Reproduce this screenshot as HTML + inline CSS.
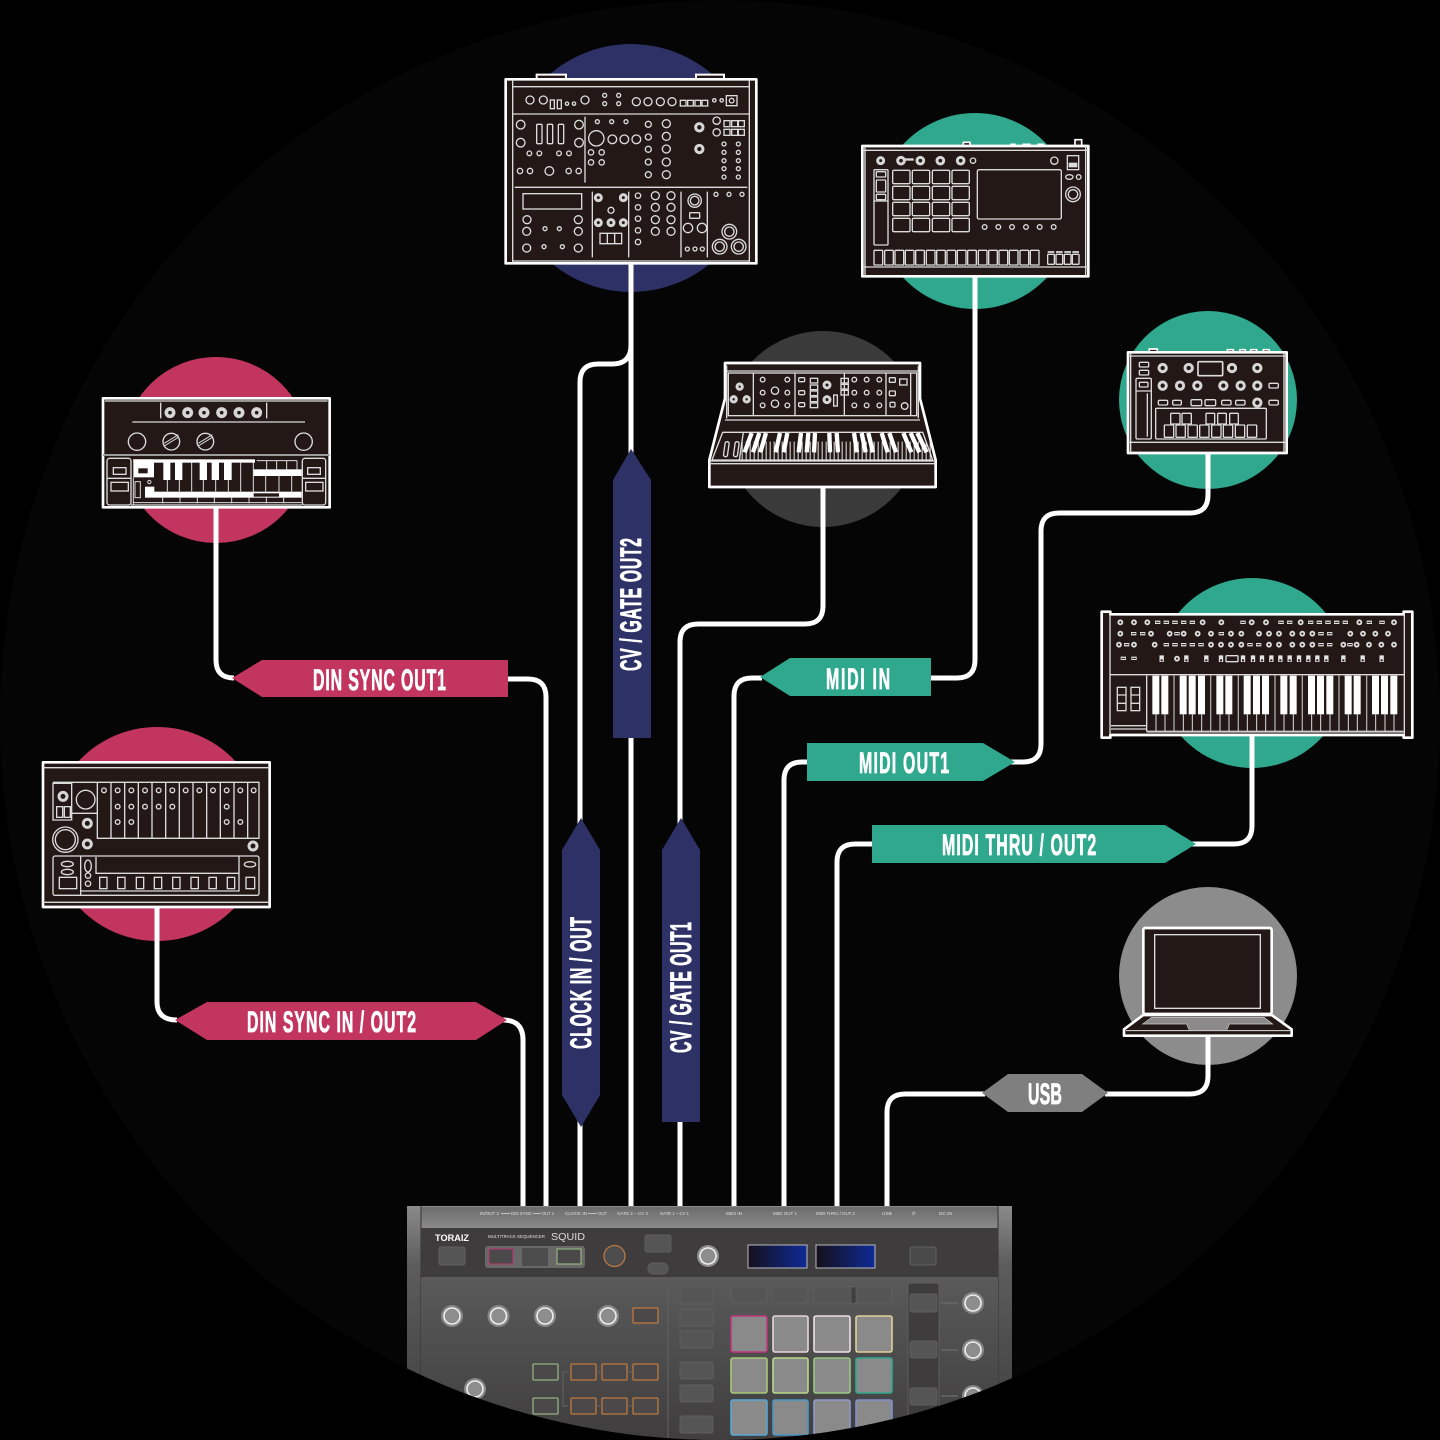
<!DOCTYPE html>
<html><head><meta charset="utf-8"><style>
html,body{margin:0;padding:0;background:#000}
svg{display:block}
.d{fill:none;stroke:#dcdcdc;stroke-width:4}
.o{fill:#231815;stroke:#fff;stroke-width:8;stroke-linejoin:round}
.k{fill:none;stroke:#d6d6d6;stroke-width:9}
.t{font-family:"Liberation Sans",sans-serif;font-weight:700;font-size:30px;fill:#fff;stroke:#fff;stroke-width:.8}
.c{fill:none;stroke:#fff;stroke-width:5}
.l{font-family:"Liberation Sans",sans-serif;font-size:4.5px;fill:#e0e0e0}
.b{fill:#555;stroke:#5e5e5e;stroke-width:1}
.r{fill:#4a4848;stroke-width:1.3}
</style></head><body>
<svg width="1440" height="1440" viewBox="0 0 1440 1440" xmlns="http://www.w3.org/2000/svg">
<defs>
<clipPath id="cc"><circle cx="720" cy="720" r="720"/></clipPath>
<linearGradient id="g1" x1="0" y1="0" x2="0" y2="1"><stop offset="0" stop-color="#8a8a8a"/><stop offset=".25" stop-color="#5c5c5c"/><stop offset="1" stop-color="#3e3c3c"/></linearGradient>
<linearGradient id="g2" x1="0" y1="0" x2="0" y2="1"><stop offset="0" stop-color="#6c6c6c"/><stop offset="1" stop-color="#8a8a8a"/></linearGradient>
<linearGradient id="g3" x1="0" y1="0" x2="0" y2="1"><stop offset="0" stop-color="#5a5a5a"/><stop offset="1" stop-color="#3e3c3c"/></linearGradient>
<linearGradient id="sc" x1="0" y1="0" x2="1" y2="0"><stop offset="0" stop-color="#15101a"/><stop offset="1" stop-color="#0e2a96"/></linearGradient>
</defs>
<rect width="1440" height="1440" fill="#000"/>
<circle cx="720" cy="720" r="720" fill="#050505"/>

<!-- colour circles -->
<circle cx="631" cy="168" r="124" fill="#2e3166"/>
<circle cx="975" cy="211" r="98" fill="#2fa88e"/>
<circle cx="823" cy="429" r="98" fill="#3a3a3a"/>
<circle cx="1208" cy="400" r="89" fill="#2fa88e"/>
<circle cx="1252" cy="673" r="95" fill="#2fa88e"/>
<circle cx="216" cy="450" r="93" fill="#c2355f"/>
<circle cx="157" cy="834" r="107" fill="#c2355f"/>
<circle cx="1208" cy="976" r="89" fill="#8c8c8c"/>

<!-- connectors -->
<path class="c" d="M216 505V660Q216 678 234 678"/>
<path class="c" d="M505 679H528Q546 679 546 697V1206"/>
<path class="c" d="M157 905V1002Q157 1020 177 1020"/>
<path class="c" d="M503 1020Q523 1020 523 1040V1206"/>
<path class="c" d="M631 262V1206"/>
<path class="c" d="M631 345Q631 364 612 364H598Q580 364 580 382V1206"/>
<path class="c" d="M823 486V606Q823 624 805 624H698Q680 624 680 642V1206"/>
<path class="c" d="M975 274V660Q975 678 957 678H928"/>
<path class="c" d="M762 678H752Q734 678 734 696V1206"/>
<path class="c" d="M1208 450V495Q1208 513 1190 513H1059Q1041 513 1041 531V744Q1041 762 1023 762H1010"/>
<path class="c" d="M810 762H802Q784 762 784 780V1206"/>
<path class="c" d="M1252 736V826Q1252 844 1234 844H1192"/>
<path class="c" d="M875 844H855Q837 844 837 862V1206"/>
<path class="c" d="M1208 1034V1076Q1208 1094 1190 1094H1105"/>
<path class="c" d="M985 1094H905Q887 1094 887 1112V1206"/>

<!-- tags -->
<polygon points="232,678 262,660 508,660 508,697 262,697" fill="#c2355f"/>
<text class="t" transform="translate(313,690) scale(.53,1)" textLength="251" lengthAdjust="spacing">DIN SYNC OUT1</text>
<polygon points="175,1020 207,1002 476,1002 507,1020 476,1040 207,1040" fill="#c2355f"/>
<text class="t" transform="translate(247,1032) scale(.53,1)" textLength="319" lengthAdjust="spacing">DIN SYNC IN / OUT2</text>
<polygon points="760,677 790,658 931,658 931,696 790,696" fill="#2fa88e"/>
<text class="t" transform="translate(826,689) scale(.53,1)" textLength="121" lengthAdjust="spacing">MIDI IN</text>
<polygon points="807,743 983,743 1015,762 983,781 807,781" fill="#2fa88e"/>
<text class="t" transform="translate(859,773) scale(.53,1)" textLength="170" lengthAdjust="spacing">MIDI OUT1</text>
<polygon points="872,825 1165,825 1196,844 1165,863 872,863" fill="#2fa88e"/>
<text class="t" transform="translate(942,855) scale(.53,1)" textLength="291" lengthAdjust="spacing">MIDI THRU / OUT2</text>
<polygon points="982,1093 1008,1074 1082,1074 1108,1093 1082,1112 1008,1112" fill="#7f7f7f"/>
<text class="t" transform="translate(1028,1104) scale(.53,1)" textLength="64" lengthAdjust="spacing">USB</text>
<polygon points="631,449 651,480 651,738 613,738 613,480" fill="#2e3166"/>
<text class="t" transform="translate(641,671) rotate(-90) scale(.53,1)" textLength="251" lengthAdjust="spacing">CV / GATE OUT2</text>
<polygon points="581,818 600,850 600,1095 581,1127 562,1095 562,850" fill="#2e3166"/>
<text class="t" transform="translate(591,1049) rotate(-90) scale(.53,1)" textLength="249" lengthAdjust="spacing">CLOCK IN / OUT</text>
<polygon points="681,818 700,850 700,1122 662,1122 662,850" fill="#2e3166"/>
<text class="t" transform="translate(691,1053) rotate(-90) scale(.53,1)" textLength="247" lengthAdjust="spacing">CV / GATE OUT1</text>

<!-- Device 1: modular -->
<g transform="translate(500,70) scale(.33333)">
<path d="M110 26V14H198V26M588 26V14H672V26" fill="#231815" stroke="#fff" stroke-width="6"/>
<rect class="o" x="17" y="28" width="752" height="552" />
<g class="d">
<path d="M38 28V580M748 28V580M38 50H748M38 132H748M44 352H742M38 573H748M255 140V338M277 365V562M386 365V562M543 365V562M622 365V562"/>
<circle cx="90" cy="90" r="12"/><circle cx="130" cy="90" r="12"/><circle cx="201" cy="101" r="5"/><circle cx="222" cy="101" r="5"/><circle cx="255" cy="90" r="12"/><circle cx="314" cy="76" r="6"/><circle cx="314" cy="101" r="6"/><circle cx="356" cy="76" r="6"/><circle cx="356" cy="101" r="6"/><circle cx="409" cy="95" r="12"/><circle cx="444" cy="95" r="12"/><circle cx="481" cy="95" r="12"/><circle cx="516" cy="95" r="12"/><circle cx="643" cy="91" r="5"/><circle cx="665" cy="91" r="5"/>
<rect x="151" y="90" width="12" height="26"/><rect x="172" y="90" width="12" height="26"/><rect x="541" y="91" width="17" height="17"/><rect x="563" y="91" width="17" height="17"/><rect x="585" y="91" width="17" height="17"/><rect x="606" y="91" width="17" height="17"/><rect x="679" y="77" width="32" height="30"/><circle cx="695" cy="92" r="7"/>
<circle cx="62" cy="164" r="13"/><circle cx="237" cy="164" r="13"/><circle cx="62" cy="218" r="13"/><circle cx="237" cy="218" r="13"/>
<rect x="110" y="163" width="16" height="58" rx="3"/><rect x="142" y="163" width="16" height="58" rx="3"/><rect x="175" y="163" width="16" height="58" rx="3"/>
<circle cx="88" cy="250" r="7"/><circle cx="118" cy="250" r="7"/><circle cx="177" cy="250" r="7"/><circle cx="207" cy="250" r="7"/><circle cx="60" cy="303" r="8"/><circle cx="90" cy="303" r="8"/><circle cx="148" cy="303" r="13"/><circle cx="206" cy="303" r="8"/><circle cx="236" cy="303" r="8"/>
<circle cx="292" cy="155" r="6"/><circle cx="335" cy="155" r="6"/><circle cx="378" cy="155" r="6"/><circle cx="289" cy="205" r="23"/><circle cx="337" cy="208" r="13"/><circle cx="373" cy="208" r="13"/><circle cx="409" cy="208" r="13"/><circle cx="273" cy="247" r="8"/><circle cx="305" cy="247" r="8"/><circle cx="273" cy="277" r="8"/><circle cx="305" cy="277" r="8"/>
<circle cx="445" cy="163" r="9"/><circle cx="445" cy="201" r="9"/><circle cx="445" cy="238" r="9"/><circle cx="445" cy="276" r="9"/><circle cx="445" cy="314" r="9"/>
<circle cx="499" cy="161" r="12"/><circle cx="499" cy="199" r="12"/><circle cx="499" cy="237" r="12"/><circle cx="499" cy="276" r="12"/><circle cx="499" cy="314" r="12"/>
<circle cx="650" cy="152" r="11"/><circle cx="650" cy="187" r="11"/>
<rect x="672" y="152" width="18" height="18"/><rect x="695" y="152" width="18" height="18"/><rect x="715" y="152" width="18" height="18"/><rect x="672" y="178" width="18" height="18"/><rect x="695" y="178" width="18" height="18"/><rect x="715" y="178" width="18" height="18"/>
<circle cx="672" cy="222" r="6"/><circle cx="672" cy="247" r="6"/><circle cx="672" cy="272" r="6"/><circle cx="672" cy="296" r="6"/><circle cx="672" cy="321" r="6"/><circle cx="715" cy="222" r="6"/><circle cx="715" cy="247" r="6"/><circle cx="715" cy="272" r="6"/><circle cx="715" cy="296" r="6"/><circle cx="715" cy="321" r="6"/>
<rect x="69" y="371" width="176" height="46"/>
<circle cx="81" cy="449" r="12"/><circle cx="235" cy="449" r="12"/><circle cx="80" cy="484" r="12"/><circle cx="235" cy="484" r="12"/><circle cx="80" cy="534" r="12"/><circle cx="235" cy="534" r="12"/><circle cx="135" cy="476" r="6"/><circle cx="178" cy="476" r="6"/><circle cx="132" cy="530" r="6"/><circle cx="187" cy="530" r="6"/>
<circle cx="333" cy="421" r="9"/><path d="M300 490H365V521H300ZM322 490V521M344 490V521"/>
<circle cx="414" cy="377" r="8"/><circle cx="414" cy="412" r="8"/><circle cx="414" cy="446" r="8"/><circle cx="414" cy="481" r="8"/><circle cx="414" cy="516" r="8"/>
<circle cx="466" cy="377" r="12"/><circle cx="466" cy="412" r="12"/><circle cx="466" cy="449" r="12"/><circle cx="466" cy="484" r="12"/><circle cx="513" cy="377" r="12"/><circle cx="513" cy="412" r="12"/><circle cx="513" cy="449" r="12"/><circle cx="513" cy="484" r="12"/>
<circle cx="584" cy="392" r="20"/><circle cx="584" cy="392" r="13"/><rect x="569" y="428" width="30" height="17" rx="2"/><circle cx="564" cy="474" r="14"/><circle cx="606" cy="474" r="14"/><circle cx="562" cy="537" r="6"/><circle cx="585" cy="537" r="6"/><circle cx="607" cy="537" r="6"/>
<circle cx="648" cy="373" r="6"/><circle cx="687" cy="373" r="6"/><circle cx="726" cy="373" r="6"/>
<circle cx="688" cy="485" r="22"/><circle cx="688" cy="485" r="14"/><circle cx="659" cy="530" r="22"/><circle cx="659" cy="530" r="14"/><circle cx="716" cy="530" r="22"/><circle cx="716" cy="530" r="14"/>
</g>
<g class="k"><circle cx="598" cy="172" r="11"/><circle cx="598" cy="237" r="11"/><circle cx="295" cy="383" r="9"/><circle cx="370" cy="383" r="9"/><circle cx="295" cy="458" r="9"/><circle cx="333" cy="458" r="9"/><circle cx="370" cy="458" r="9"/></g>
</g>

<!-- Device 2: teal sampler -->
<g transform="translate(855,135) scale(.33333)">
<path d="M325 32V22H345V32M660 32V14H680V32M468 32V28H480V32M505 32V28H525V32M550 32V28H565V32" fill="#231815" stroke="#fff" stroke-width="5"/>
<rect class="o" x="22" y="33" width="678" height="391"/>
<g class="d">
<path d="M30 33V424M692 33V424M22 46H700M22 396H700"/>
<circle cx="354" cy="77" r="8"/><circle cx="598" cy="77" r="11"/><rect x="150" y="72" width="24" height="3" fill="#ddd"/><rect x="637" y="62" width="34" height="42"/><rect x="643" y="85" width="22" height="10" fill="#ddd"/><ellipse cx="643" cy="126" rx="11" ry="7"/><circle cx="671" cy="126" r="7"/><circle cx="654" cy="178" r="22"/><circle cx="654" cy="178" r="14"/>
<rect x="57" y="104" width="42" height="226" rx="3"/><rect x="64" y="110" width="28" height="16" rx="2"/><rect x="64" y="135" width="28" height="36" rx="2"/><rect x="64" y="178" width="28" height="16" rx="2"/><path d="M57 198H99"/>
<rect x="113" y="106" width="52" height="40" rx="4"/><rect x="172" y="106" width="52" height="40" rx="4"/><rect x="232" y="106" width="52" height="40" rx="4"/><rect x="291" y="106" width="52" height="40" rx="4"/>
<rect x="113" y="154" width="52" height="40" rx="4"/><rect x="172" y="154" width="52" height="40" rx="4"/><rect x="232" y="154" width="52" height="40" rx="4"/><rect x="291" y="154" width="52" height="40" rx="4"/>
<rect x="113" y="202" width="52" height="40" rx="4"/><rect x="172" y="202" width="52" height="40" rx="4"/><rect x="232" y="202" width="52" height="40" rx="4"/><rect x="291" y="202" width="52" height="40" rx="4"/>
<rect x="113" y="250" width="52" height="40" rx="4"/><rect x="172" y="250" width="52" height="40" rx="4"/><rect x="232" y="250" width="52" height="40" rx="4"/><rect x="291" y="250" width="52" height="40" rx="4"/>
<rect x="367" y="104" width="252" height="148" rx="5"/>
<circle cx="389" cy="276" r="7"/><circle cx="430" cy="276" r="7"/><circle cx="471" cy="276" r="7"/><circle cx="513" cy="276" r="7"/><circle cx="554" cy="276" r="7"/><circle cx="596" cy="276" r="7"/>
<rect x="57" y="346" width="26" height="44" rx="2"/><rect x="89" y="346" width="26" height="44" rx="2"/><rect x="120" y="346" width="26" height="44" rx="2"/><rect x="151" y="346" width="26" height="44" rx="2"/><rect x="182" y="346" width="26" height="44" rx="2"/><rect x="214" y="346" width="26" height="44" rx="2"/><rect x="245" y="346" width="26" height="44" rx="2"/><rect x="276" y="346" width="26" height="44" rx="2"/><rect x="307" y="346" width="26" height="44" rx="2"/><rect x="338" y="346" width="26" height="44" rx="2"/><rect x="370" y="346" width="26" height="44" rx="2"/><rect x="401" y="346" width="26" height="44" rx="2"/><rect x="432" y="346" width="26" height="44" rx="2"/><rect x="463" y="346" width="26" height="44" rx="2"/><rect x="495" y="346" width="26" height="44" rx="2"/><rect x="526" y="346" width="26" height="44" rx="2"/>
<path d="M578 351H598M603 351H623M628 351H648M652 351H672" stroke-width="5"/>
<rect x="578" y="358" width="20" height="30" rx="2"/><rect x="603" y="358" width="20" height="30" rx="2"/><rect x="628" y="358" width="20" height="30" rx="2"/><rect x="652" y="358" width="20" height="30" rx="2"/>
</g>
<g class="k"><circle cx="77" cy="77" r="9"/><circle cx="138" cy="77" r="10"/><circle cx="196" cy="77" r="10"/><circle cx="256" cy="77" r="10"/><circle cx="317" cy="77" r="10"/></g>
</g>

<!-- Device 3: keyboard (Moog) -->
<g transform="translate(700,355) scale(.33333)">
<path class="o" d="M75 24H660V130L707 315V396H28V315L75 130Z"/>
<g class="d">
<path d="M80 48H655M80 32V190M655 32V190"/>
<rect x="85" y="54" width="565" height="128"/>
<path d="M160 54V182M285 54V182M433 54V182M558 54V182M632 54V182M75 195H660M28 318H707M28 326H707"/>
<path d="M68 232H668L698 315H36Z"/>
<path d="M130 232L118 315"/>
<rect x="73" y="260" width="12" height="45" rx="5" transform="rotate(8 79 282)"/><rect x="103" y="260" width="12" height="45" rx="5" transform="rotate(8 109 282)"/>
<circle cx="188" cy="74" r="7"/><circle cx="262" cy="74" r="7"/><circle cx="188" cy="113" r="7"/><circle cx="262" cy="113" r="7"/><circle cx="188" cy="151" r="7"/><circle cx="262" cy="151" r="7"/><circle cx="225" cy="107" r="11"/><circle cx="225" cy="146" r="11"/>
<rect x="296" y="68" width="18" height="12" rx="3"/><rect x="296" y="107" width="18" height="12" rx="3"/><rect x="296" y="143" width="18" height="12" rx="3"/>
<rect x="331" y="70" width="22" height="14"/><rect x="331" y="90" width="22" height="14"/><rect x="331" y="108" width="22" height="14"/><rect x="331" y="126" width="22" height="14"/><rect x="331" y="144" width="22" height="14"/>
<rect x="401" y="120" width="11" height="33"/>
<rect x="423" y="70" width="22" height="14"/><rect x="423" y="88" width="22" height="14"/><rect x="423" y="106" width="22" height="14"/>
<circle cx="463" cy="74" r="7"/><circle cx="500" cy="74" r="7"/><circle cx="538" cy="74" r="7"/><circle cx="463" cy="113" r="7"/><circle cx="500" cy="113" r="7"/><circle cx="538" cy="113" r="7"/><circle cx="463" cy="151" r="7"/><circle cx="500" cy="151" r="7"/><circle cx="538" cy="151" r="7"/>
<rect x="568" y="68" width="18" height="14" rx="2"/><rect x="599" y="72" width="22" height="18"/><rect x="568" y="108" width="18" height="14" rx="2"/><rect x="570" y="142" width="15" height="14" rx="3"/><circle cx="614" cy="153" r="10"/>
</g>
<g class="k"><circle cx="119" cy="95" r="8"/><circle cx="101" cy="133" r="8"/><circle cx="140" cy="133" r="8"/><circle cx="381" cy="90" r="9"/><circle cx="381" cy="134" r="9"/></g>
<path d="M125 290H695" stroke="#e8e8e8" stroke-width="60" stroke-dasharray="3 9" fill="none"/>
<g stroke="#fff" stroke-width="13" fill="none"><path d="M155 234L134 292M178 234L159 292M198 234L181 292M240 234L227 292M262 234L251 292M303 234L296 292M325 234L320 292M345 234L342 292M388 234L390 292M410 234L414 292M462 234L471 292M485 234L497 292M505 234L519 292M545 234L563 292M568 234L588 292M610 234L634 292M632 234L658 292M652 234L680 292"/></g>
</g>

<!-- Device 4: crimson top -->
<g transform="translate(95,390) scale(.33333)">
<rect class="o" x="24" y="25" width="680" height="327"/>
<g class="d">
<path d="M30 33H698M197 38V85M515 38V85M112 96H630"/>
<circle cx="126" cy="155" r="26"/><circle cx="229" cy="155" r="25"/><path d="M208 168L250 142M208 160L250 134" stroke-width="3"/><circle cx="331" cy="155" r="25"/><path d="M310 168L352 142M310 160L352 134" stroke-width="3"/><circle cx="626" cy="155" r="26"/>
</g>
<path d="M24 195H704" stroke="#9a9a9a" stroke-width="6"/>
<g class="k" style="stroke-width:11"><circle cx="225" cy="68" r="11"/><circle cx="278" cy="68" r="11"/><circle cx="327" cy="68" r="11"/><circle cx="380" cy="68" r="11"/><circle cx="432" cy="68" r="11"/><circle cx="485" cy="68" r="11"/></g>
<g class="d">
<rect x="36" y="205" width="72" height="140" rx="8"/><rect x="622" y="205" width="70" height="140" rx="8"/><path d="M36 265H108M622 265H692M108 345H622"/>
<rect x="55" y="233" width="38" height="20"/><rect x="48" y="277" width="52" height="26"/><rect x="638" y="233" width="38" height="20"/><rect x="632" y="277" width="52" height="26"/>
</g>
<rect x="115" y="208" width="365" height="10" fill="#fff"/><rect x="115" y="208" width="62" height="54" fill="#fff"/>
<rect x="130" y="235" width="28" height="15" fill="#231815"/>
<rect x="150" y="290" width="28" height="32" fill="#fff"/>
<rect x="150" y="305" width="470" height="18" fill="#fff"/>
<rect x="476" y="310" width="76" height="10" fill="#231815"/>
<rect x="475" y="238" width="145" height="20" fill="#fff"/>
<g stroke="#ddd" stroke-width="3" fill="none">
<path d="M217 218V305M253 218V305M290 218V305M325 218V305M362 218V305M400 218V305M437 218V305M475 218V305"/>
<path d="M512 258V305M552 258V305M590 258V305M515 212V238M545 212V238M575 212V238M485 212H606M606 212V238"/>
<path d="M115 262V345M115 338H620M203 322V340M255 322V340M307 322V340M358 322V340M410 322V340M462 322V340M514 322V340M566 322V340"/>
<rect x="120" y="275" width="16" height="48"/><circle cx="163" cy="276" r="5"/>
</g>
<g fill="#fff"><rect x="205" y="215" width="21" height="55"/><rect x="240" y="215" width="22" height="55"/><rect x="314" y="215" width="22" height="55"/><rect x="350" y="215" width="22" height="55"/><rect x="387" y="215" width="23" height="55"/></g>
</g>

<!-- Device 5: crimson lower -->
<g transform="translate(35,755) scale(.33333)">
<rect class="o" x="24" y="22" width="680" height="434"/>
<g class="d">
<path d="M24 38H704M24 442H704"/>
<path d="M54 82H672V250H187V82M228 82V248M269 82V248M310 82V248M351 82V248M392 82V248M433 82V248M474 82V248M515 82V248M556 82V248M597 82V248M638 82V248"/>
<path d="M110 85V175H187M54 85H110V195H54ZM110 195V175"/>
<circle cx="207" cy="106" r="7"/><circle cx="248" cy="106" r="7"/><circle cx="289" cy="106" r="7"/><circle cx="330" cy="106" r="7"/><circle cx="371" cy="106" r="7"/><circle cx="412" cy="106" r="7"/><circle cx="452" cy="106" r="7"/><circle cx="493" cy="106" r="7"/><circle cx="534" cy="106" r="7"/><circle cx="575" cy="106" r="7"/><circle cx="616" cy="106" r="7"/><circle cx="656" cy="106" r="7"/>
<circle cx="248" cy="155" r="7"/><circle cx="289" cy="155" r="7"/><circle cx="330" cy="155" r="7"/><circle cx="371" cy="155" r="7"/><circle cx="412" cy="155" r="7"/><circle cx="575" cy="155" r="7"/>
<circle cx="248" cy="201" r="7"/><circle cx="289" cy="201" r="7"/><circle cx="575" cy="201" r="7"/><circle cx="616" cy="201" r="7"/>
<rect x="65" y="155" width="18" height="32"/><rect x="88" y="155" width="18" height="32"/>
<circle cx="152" cy="134" r="28"/><circle cx="91" cy="254" r="38"/><circle cx="91" cy="254" r="30"/>
<rect x="54" y="303" width="618" height="118" rx="6"/>
<path d="M137 303V421M183 306V355H612M612 303V408H137"/>
<ellipse cx="97" cy="327" rx="18" ry="8"/><ellipse cx="97" cy="351" rx="18" ry="8"/><rect x="73" y="367" width="52" height="34"/>
<ellipse cx="159" cy="333" rx="10" ry="18"/><circle cx="159" cy="362" r="8"/><circle cx="159" cy="386" r="8"/>
<rect x="194" y="367" width="22" height="34"/><rect x="248" y="367" width="22" height="34"/><rect x="304" y="367" width="22" height="34"/><rect x="358" y="367" width="22" height="34"/><rect x="413" y="367" width="22" height="34"/><rect x="468" y="367" width="22" height="34"/><rect x="522" y="367" width="22" height="34"/><rect x="577" y="367" width="22" height="34"/>
<ellipse cx="645" cy="328" rx="17" ry="8"/><rect x="633" y="367" width="26" height="34"/>
</g>
<g class="k"><circle cx="84" cy="124" r="12"/><circle cx="157" cy="205" r="12"/><circle cx="157" cy="267" r="12"/><circle cx="654" cy="273" r="12"/></g>
</g>

<!-- Device 6: teal small -->
<g transform="translate(1120,345) scale(.33333)">
<path d="M88 22V12H112V22M322 22V14H340V22M360 22V14H376V22M392 22V14H410V22M430 22V14H448V22" fill="#231815" stroke="#fff" stroke-width="5"/>
<rect class="o" x="24" y="22" width="476" height="302"/>
<g class="d">
<path d="M32 22V324M492 22V324M24 33H500M24 292H500"/>
<rect x="58" y="52" width="28" height="14" rx="3"/><rect x="58" y="76" width="28" height="14" rx="3"/>
<rect x="48" y="100" width="46" height="182" rx="4"/><rect x="58" y="112" width="26" height="14" rx="3"/><path d="M48 138H94M82 145V275"/>
<rect x="234" y="50" width="74" height="42" rx="3" stroke-width="5"/>
<rect x="115" y="166" width="28" height="14" rx="4"/><rect x="158" y="166" width="26" height="14" rx="4"/><rect x="213" y="164" width="32" height="18" rx="4"/><rect x="255" y="164" width="32" height="18" rx="4"/><rect x="305" y="166" width="28" height="14" rx="4"/><rect x="347" y="166" width="28" height="14" rx="4"/><rect x="447" y="166" width="28" height="14" rx="4"/><rect x="447" y="115" width="28" height="14" rx="4"/>
<rect x="107" y="190" width="332" height="92" rx="3"/>
<rect x="152" y="205" width="28" height="32" rx="2"/><rect x="186" y="205" width="28" height="32" rx="2"/><rect x="258" y="205" width="26" height="32" rx="2"/><rect x="293" y="205" width="26" height="32" rx="2"/><rect x="329" y="205" width="26" height="32" rx="2"/>
<rect x="133" y="240" width="28" height="37" rx="2"/><rect x="168" y="240" width="28" height="37" rx="2"/><rect x="204" y="240" width="28" height="37" rx="2"/><rect x="239" y="240" width="28" height="37" rx="2"/><rect x="275" y="240" width="28" height="37" rx="2"/><rect x="310" y="240" width="28" height="37" rx="2"/><rect x="346" y="240" width="28" height="37" rx="2"/><rect x="382" y="240" width="28" height="37" rx="2"/>
</g>
<g class="k"><circle cx="128" cy="69" r="11"/><circle cx="206" cy="69" r="11"/><circle cx="336" cy="69" r="11"/><circle cx="412" cy="69" r="11"/><circle cx="128" cy="122" r="11"/><circle cx="180" cy="122" r="11"/><circle cx="232" cy="122" r="11"/><circle cx="310" cy="122" r="11"/><circle cx="362" cy="122" r="11"/><circle cx="412" cy="122" r="11"/><circle cx="412" cy="173" r="11"/></g>
</g>

<!-- Device 7: synth -->
<g transform="translate(1095,605) scale(.33333)">
<path class="o" d="M20 20H46V28H926V20H952V398H926V390H46V398H20Z"/>
<g class="d">
<path d="M45 28V390M928 28V390M46 209H926M155 212V380M48 362H155M48 372H155"/>
<rect x="67" y="247" width="26" height="70"/><rect x="108" y="247" width="26" height="70"/><path d="M67 270H93M67 295H93M108 270H134M108 295H134"/>
<rect x="393" y="152" width="36" height="18" rx="2"/>
</g>
<g fill="#fff"><rect x="172" y="212" width="21" height="116"/><rect x="199" y="212" width="21" height="116"/><rect x="254" y="212" width="21" height="116"/><rect x="281" y="212" width="21" height="116"/><rect x="309" y="212" width="21" height="116"/><rect x="364" y="212" width="21" height="116"/><rect x="391" y="212" width="21" height="116"/><rect x="446" y="212" width="21" height="116"/><rect x="474" y="212" width="21" height="116"/><rect x="501" y="212" width="21" height="116"/><rect x="556" y="212" width="21" height="116"/><rect x="584" y="212" width="21" height="116"/><rect x="639" y="212" width="21" height="116"/><rect x="666" y="212" width="21" height="116"/><rect x="694" y="212" width="21" height="116"/><rect x="749" y="212" width="21" height="116"/><rect x="776" y="212" width="21" height="116"/><rect x="831" y="212" width="21" height="116"/><rect x="858" y="212" width="21" height="116"/><rect x="886" y="212" width="21" height="116"/></g>
<path d="M183 328V378M210 328V378M265 328V378M292 328V378M320 328V378M375 328V378M402 328V378M457 328V378M485 328V378M512 328V378M567 328V378M595 328V378M650 328V378M677 328V378M705 328V378M760 328V378M787 328V378M842 328V378M870 328V378M897 328V378" stroke="#ddd" stroke-width="3" fill="none"/>
<path d="M237 212V378M347 212V378M430 212V378M540 212V378M622 212V378M732 212V378M815 212V378" stroke="#aaa" stroke-width="4" fill="none"/>
<path d="M155 380H926" stroke="#ccc" stroke-width="6"/>
<g class="d" style="stroke-width:5.5">
<circle cx="76" cy="52" r="6"/><circle cx="117" cy="52" r="6"/><circle cx="157" cy="52" r="6"/><circle cx="323" cy="52" r="6"/><circle cx="379" cy="52" r="6"/><circle cx="470" cy="52" r="6"/><circle cx="513" cy="52" r="6"/><circle cx="617" cy="52" r="6"/><circle cx="793" cy="52" r="6"/><circle cx="897" cy="52" r="6"/>
<circle cx="76" cy="86" r="6"/><circle cx="168" cy="86" r="6"/><circle cx="224" cy="86" r="6"/><circle cx="266" cy="86" r="6"/><circle cx="308" cy="86" r="6"/><circle cx="348" cy="86" r="6"/><circle cx="408" cy="86" r="6"/><circle cx="439" cy="86" r="6"/><circle cx="492" cy="86" r="6"/><circle cx="522" cy="86" r="6"/><circle cx="552" cy="86" r="6"/><circle cx="592" cy="86" r="6"/><circle cx="622" cy="86" r="6"/><circle cx="652" cy="86" r="6"/><circle cx="766" cy="86" r="6"/><circle cx="804" cy="86" r="6"/><circle cx="841" cy="86" r="6"/><circle cx="879" cy="86" r="6"/>
<circle cx="72" cy="119" r="6"/><circle cx="117" cy="119" r="6"/><circle cx="179" cy="119" r="6"/><circle cx="348" cy="119" r="6"/><circle cx="378" cy="119" r="6"/><circle cx="408" cy="119" r="6"/><circle cx="439" cy="119" r="6"/><circle cx="522" cy="119" r="6"/><circle cx="552" cy="119" r="6"/><circle cx="592" cy="119" r="6"/><circle cx="622" cy="119" r="6"/><circle cx="652" cy="119" r="6"/><circle cx="745" cy="119" r="6"/><circle cx="785" cy="119" r="6"/><circle cx="822" cy="119" r="6"/><circle cx="859" cy="119" r="6"/><circle cx="897" cy="119" r="6"/><circle cx="246" cy="161" r="6"/>
</g>
<path d="M180 52H196M206 52H222M232 52H248M258 52H274M284 52H300M436 52H452M550 52H566M576 52H592M639 52H655M665 52H681M691 52H707M717 52H733M743 52H759M815 52H831M853 52H869M108 86H124M135 86H151M238 86H254M371 86H387M670 86H686M696 86H712M87 119H103M206 119H222M232 119H248M258 119H274M284 119H300M310 119H326M457 119H473M483 119H499M670 119H686M696 119H712M757 119H773M77 160H93M109 160H125" stroke="#e4e4e4" stroke-width="10" fill="none"/>
<path d="M182 52H194M208 52H220M234 52H246M260 52H272M286 52H298M438 52H450M552 52H564M578 52H590M641 52H653M667 52H679M693 52H705M719 52H731M745 52H757M817 52H829M855 52H867M110 86H122M137 86H149M240 86H252M373 86H385M672 86H684M698 86H710M89 119H101M208 119H220M234 119H246M260 119H272M286 119H298M312 119H324M459 119H471M485 119H497M672 119H684M698 119H710M759 119H771M79 160H91M111 160H123" stroke="#231815" stroke-width="3" fill="none"/>
<path d="M200 151V171M274 151V171M334 151V171M378 151V171M444 151V171M474 151V171M501 151V171M529 151V171M556 151V171M584 151V171M612 151V171M640 151V171M667 151V171M694 151V171M745 151V171M803 151V171M860 151V171" stroke="#e4e4e4" stroke-width="13" fill="none"/>
<path d="M200 163V169M274 163V169M334 163V169M378 163V169M444 163V169M474 163V169M501 163V169M529 163V169M556 163V169M584 163V169M612 163V169M640 163V169M667 163V169M694 163V169M745 163V169M803 163V169M860 163V169" stroke="#231815" stroke-width="6" fill="none"/>
</g>

<!-- Device 8: laptop -->
<g transform="translate(1110,920) scale(.33333)">
<rect class="o" x="100" y="24" width="385" height="258" rx="6"/>
<rect x="134" y="44" width="317" height="221" fill="#231815" stroke="#ddd" stroke-width="4"/>
<path class="o" d="M100 285H485L545 328V347H42V328Z"/>
<path d="M125 292H462L488 312H358L352 328H236L230 312H98Z" fill="#8a8a8a" stroke="#ccc" stroke-width="2"/>
<path d="M48 332H540" stroke="#ddd" stroke-width="3"/>
</g>

<!-- Sequencer -->
<g clip-path="url(#cc)">
<rect x="407" y="1206" width="605" height="240" fill="url(#g1)"/>
<rect x="421" y="1207" width="577" height="21" fill="url(#g2)"/>
<path d="M421 1206V1440M998 1206V1440" stroke="#333" stroke-width="1"/>
<rect x="421" y="1228" width="577" height="49" fill="#3e3c3c"/>
<rect x="421" y="1278" width="577" height="170" fill="url(#g3)"/>

<text class="l" x="480" y="1215" textLength="19" lengthAdjust="spacingAndGlyphs">IN/OUT 2</text><path d="M501 1213.5H510M533 1213.5H541M588 1213.5H597" stroke="#ddd" stroke-width=".7"/>
<text class="l" x="511" y="1215" textLength="21" lengthAdjust="spacingAndGlyphs">DIN SYNC</text>
<text class="l" x="542" y="1215" textLength="12" lengthAdjust="spacingAndGlyphs">OUT 1</text>
<text class="l" x="565" y="1215" textLength="22" lengthAdjust="spacingAndGlyphs">CLOCK IN</text>
<text class="l" x="598" y="1215" textLength="9" lengthAdjust="spacingAndGlyphs">OUT</text>
<text class="l" x="617" y="1215" textLength="31" lengthAdjust="spacingAndGlyphs">GATE 2 – CV 2</text>
<text class="l" x="660" y="1215" textLength="29" lengthAdjust="spacingAndGlyphs">GATE 1 – CV 1</text>
<text class="l" x="726" y="1215" textLength="16" lengthAdjust="spacingAndGlyphs">MIDI IN</text>
<text class="l" x="773" y="1215" textLength="24" lengthAdjust="spacingAndGlyphs">MIDI OUT 1</text>
<text class="l" x="816" y="1215" textLength="39" lengthAdjust="spacingAndGlyphs">MIDI THRU / OUT 2</text>
<text class="l" x="882" y="1215" textLength="10" lengthAdjust="spacingAndGlyphs">USB</text>
<text class="l" x="912" y="1215">Ö</text>
<text class="l" x="939" y="1215" textLength="13" lengthAdjust="spacingAndGlyphs">DC IN</text>
<text x="435" y="1241" textLength="34" lengthAdjust="spacingAndGlyphs" style="font-family:'Liberation Sans',sans-serif;font-weight:700;font-size:9px;fill:#fff">TORAIZ</text>
<text class="l" x="488" y="1238" textLength="57" lengthAdjust="spacingAndGlyphs">MULTITRACK SEQUENCER</text>
<text x="551" y="1240" textLength="34" lengthAdjust="spacingAndGlyphs" style="font-family:'Liberation Sans',sans-serif;font-size:10px;fill:#ddd">SQUID</text>

<rect class="b" x="439" y="1247" width="26" height="18" rx="2"/>
<rect x="485" y="1246" width="100" height="22" rx="3" fill="#686868"/>
<rect x="489" y="1249" width="24" height="15" fill="#4a4848" stroke="#c0336f" stroke-width="1"/>
<rect x="522" y="1248" width="26" height="18" fill="#4d4d4d"/>
<rect x="557" y="1249" width="24" height="15" fill="#4a4848" stroke="#9fc588" stroke-width="1"/>
<circle cx="614.5" cy="1256" r="10.5" fill="#4d4d4d" stroke="#c07a3f" stroke-width="1.2"/>
<rect class="b" x="645" y="1235" width="26" height="17" rx="2"/>
<rect class="b" x="648" y="1263" width="20" height="11" rx="5"/>
<circle cx="708" cy="1256" r="11" fill="#8f8f8f"/><circle cx="708" cy="1256" r="8" fill="#8d8d8d" stroke="#eee" stroke-width="1.6"/>
<rect x="748" y="1245" width="59" height="23" fill="url(#sc)" stroke="#bbb" stroke-width="1"/>
<rect x="816" y="1245" width="59" height="23" fill="url(#sc)" stroke="#bbb" stroke-width="1"/>
<rect x="910" y="1247" width="26" height="18" rx="2" fill="#4a4a4a" stroke="#626262" stroke-width="1"/>

<g fill="#8d8d8d"><circle cx="452" cy="1316" r="11" fill="#888"/><circle cx="498.5" cy="1316" r="11" fill="#888"/><circle cx="545" cy="1316" r="11" fill="#888"/><circle cx="608" cy="1316" r="11" fill="#888"/><circle cx="973" cy="1303" r="11" fill="#888"/><circle cx="973" cy="1350" r="11" fill="#888"/><circle cx="973" cy="1396" r="11" fill="#888"/><circle cx="475" cy="1389" r="11" fill="#888"/></g>
<g fill="#8d8d8d" stroke="#eee" stroke-width="1.6"><circle cx="452" cy="1316" r="8"/><circle cx="498.5" cy="1316" r="8"/><circle cx="545" cy="1316" r="8"/><circle cx="608" cy="1316" r="8"/><circle cx="973" cy="1303" r="8"/><circle cx="973" cy="1350" r="8"/><circle cx="973" cy="1396" r="8"/><circle cx="475" cy="1389" r="8"/></g>

<g class="r" stroke="#c07a3f"><rect x="633" y="1308" width="25" height="15" rx="1"/><rect x="571" y="1364" width="25" height="16" rx="1"/><rect x="602" y="1364" width="25" height="16" rx="1"/><rect x="633" y="1364" width="25" height="16" rx="1"/><rect x="571" y="1398" width="25" height="16" rx="1"/><rect x="602" y="1398" width="25" height="16" rx="1"/><rect x="633" y="1398" width="25" height="16" rx="1"/></g>
<g class="r" stroke="#93b184"><rect x="533" y="1364" width="25" height="16" rx="1"/><rect x="533" y="1398" width="25" height="16" rx="1"/></g>
<path d="M568 1372H563V1406H568M596 1372H602M627 1372H633M596 1406H602M627 1406H633M668 1287V1440" stroke="#5f5f5f" stroke-width="1.2" fill="none"/>

<g class="b"><rect x="680" y="1287" width="33" height="17" rx="2"/><rect x="680" y="1309" width="33" height="17" rx="2"/><rect x="680" y="1331" width="33" height="17" rx="2"/><rect x="680" y="1362" width="33" height="17" rx="2"/><rect x="680" y="1385" width="33" height="17" rx="2"/><rect x="680" y="1416" width="33" height="17" rx="2"/><rect x="731" y="1287" width="36" height="16" rx="2"/><rect x="772" y="1287" width="36" height="16" rx="2"/><rect x="814" y="1287" width="78" height="16" rx="2"/></g>
<rect x="851" y="1287" width="5" height="16" fill="#3f3f3f" stroke="#666" stroke-width=".6"/>

<g fill="#8a8a8a" stroke-width="1.6">
<rect x="731" y="1316" width="36" height="36" rx="2" stroke="#c0337a"/><rect x="773" y="1316" width="35" height="36" rx="2" stroke="#e6d6da"/><rect x="814" y="1316" width="36" height="36" rx="2" stroke="#eee0e6"/><rect x="856" y="1316" width="36" height="36" rx="2" stroke="#e0d09a"/>
<rect x="731" y="1358" width="36" height="35" rx="2" stroke="#a8c878"/><rect x="773" y="1358" width="35" height="35" rx="2" stroke="#b8d888"/><rect x="814" y="1358" width="36" height="35" rx="2" stroke="#98c880"/><rect x="856" y="1358" width="36" height="35" rx="2" stroke="#2fa88e"/>
<rect x="731" y="1400" width="36" height="35" rx="2" stroke="#58a8d8"/><rect x="773" y="1400" width="35" height="35" rx="2" stroke="#4898c8"/><rect x="814" y="1400" width="36" height="35" rx="2" stroke="#9098d0"/><rect x="856" y="1400" width="36" height="35" rx="2" stroke="#8090d0"/>
</g>

<rect x="908" y="1283" width="31" height="150" rx="2" fill="#3e3c3c" stroke="#5e5e5e" stroke-width="1"/>
<g class="b"><rect x="910" y="1294" width="27" height="18" rx="2"/><rect x="910" y="1341" width="27" height="17" rx="2"/><rect x="910" y="1388" width="27" height="17" rx="2"/></g>
<path d="M941 1303H958M941 1350H958M941 1396H958" stroke="#666" stroke-width="1.5"/>
</g>
</svg>
</body></html>
